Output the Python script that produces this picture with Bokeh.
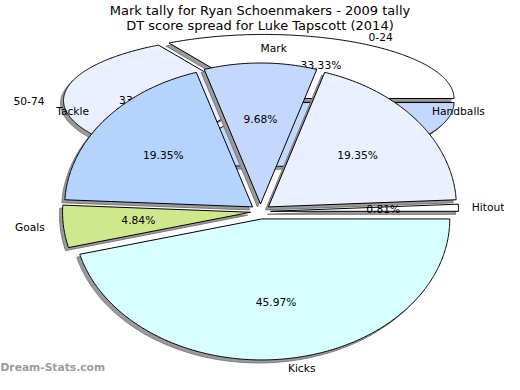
import numpy as np
from bokeh.plotting import figure
from bokeh.models import Range1d
from bokeh.embed import file_html
from bokeh.resources import INLINE
from bokeh.core.properties import value

# ---------------- data ----------------
title_lines = ["Mark tally for Ryan Schoenmakers - 2009 tally",
               "DT score spread for Luke Tapscott (2014)"]

back_labels = ["0-24", "50-74", "25-49"]
back_values = [1, 1, 1]
back_colors = ["#FFFFFF", "#EAF0FF", "#C4D8FF"]

front_labels = ["Hitout", "Handballs", "Mark", "Tackle", "Goals", "Kicks"]
front_values = [1, 24, 12, 24, 6, 57]
front_colors = ["#FFFFFF", "#EAF0FF", "#C4D8FF", "#B4D4FF", "#D0E88C", "#D8FFFF"]

watermark = "Dream-Stats.com"

# ---------------- figure ----------------
W, H = 504, 374
p = figure(width=W, height=H, x_range=Range1d(0, W), y_range=Range1d(H, 0),
           output_backend="svg", toolbar_location=None, min_border=0)
p.axis.visible = False
p.grid.visible = False
p.outline_line_color = None
p.background_fill_color = "white"
p.border_fill_color = "white"

FONT = value("DejaVu Sans")
FS = "10.7px"
CHAR_W = 5.3  # rough label character width used to keep labels inside the canvas


def build_pie(values, labels, colors, cx, cy, rx, ry, explode, pct_r=0.6, lab_r=1.1):
    vals = np.array(values, dtype=float)
    frac = vals / vals.sum()
    edges = np.concatenate([[0.0], np.cumsum(frac)]) * 360.0
    k = ry / rx
    xs, ys = [], []
    pct = dict(x=[], y=[], t=[])
    labl = dict(x=[], y=[], t=[])
    labr = dict(x=[], y=[], t=[])
    for i in range(len(vals)):
        a0, a1 = edges[i], edges[i + 1]
        mid = np.radians((a0 + a1) / 2.0)
        ox = cx + explode * np.cos(mid)
        oy = cy - explode * np.sin(mid) * k
        n = max(int(abs(a1 - a0) * 2), 4)
        ang = np.radians(np.linspace(a0, a1, n))
        px = np.concatenate([[ox], ox + rx * np.cos(ang)])
        py = np.concatenate([[oy], oy - ry * np.sin(ang)])
        xs.append(list(px))
        ys.append(list(py))
        pct["x"].append(ox + pct_r * rx * np.cos(mid))
        pct["y"].append(oy - pct_r * ry * np.sin(mid))
        pct["t"].append(f"{frac[i] * 100:.2f}%")
        lx = ox + lab_r * rx * np.cos(mid)
        ly = min(oy - lab_r * ry * np.sin(mid), H - 6)
        if np.cos(mid) >= -1e-9:
            lx = min(lx, W - 1 - CHAR_W * len(labels[i]))
            d = labl
        else:
            d = labr
        d["x"].append(lx)
        d["y"].append(ly)
        d["t"].append(labels[i])
    return xs, ys, colors, pct, labl, labr


def draw_pie(pie, shadow=(-3, 3)):
    xs, ys, colors, pct, labl, labr = pie
    sxs = [[v + shadow[0] for v in x] for x in xs]
    sys_ = [[v + shadow[1] for v in y] for y in ys]
    p.patches(xs=sxs, ys=sys_, fill_color="#9a9a9a", line_color="#7a7a7a", line_width=1)
    p.patches(xs=xs, ys=ys, fill_color=colors, line_color="black", line_width=1)
    p.text(x=pct["x"], y=pct["y"], text=pct["t"], text_align="center", text_baseline="middle",
           text_font=FONT, text_font_size=FS, text_color="black")
    p.text(x=labl["x"], y=labl["y"], text=labl["t"], text_align="left", text_baseline="middle",
           text_font=FONT, text_font_size=FS, text_color="black")
    p.text(x=labr["x"], y=labr["y"], text=labr["t"], text_align="right", text_baseline="middle",
           text_font=FONT, text_font_size=FS, text_color="black")


back = build_pie(back_values, back_labels, back_colors, cx=260, cy=100, rx=190, ry=64, explode=7)
front = build_pie(front_values, front_labels, front_colors, cx=260, cy=211, rx=188, ry=141, explode=10)

draw_pie(back)
draw_pie(front)

# title
p.text(x=[259.5, 259.5], y=[10, 25], text=title_lines, text_align="center",
       text_baseline="middle", text_font=FONT, text_font_size="13px", text_color="black")

# watermark
p.text(x=[0], y=[367], text=[watermark], text_align="left", text_baseline="middle",
       text_font=FONT, text_font_size="10.7px", text_font_style="bold", text_color="#9c9c9c")

open("out.html", "w").write(file_html(p, INLINE))
